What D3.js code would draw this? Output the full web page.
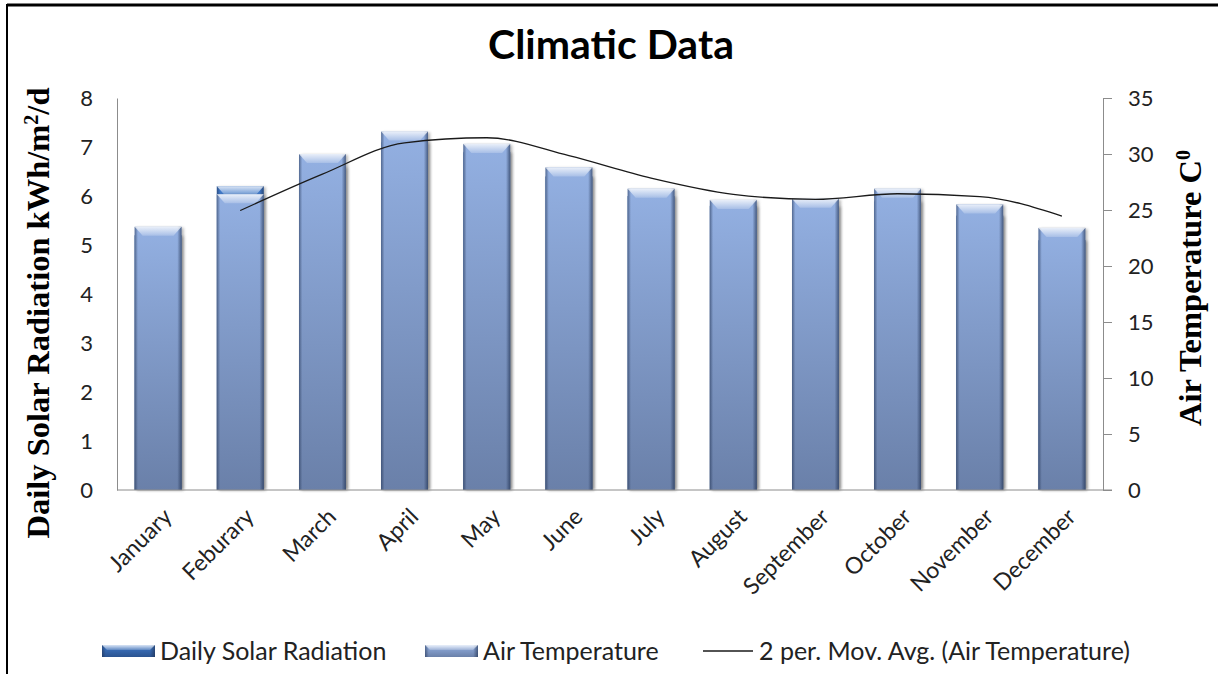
<!DOCTYPE html>
<html>
<head>
<meta charset="utf-8">
<script src="https://cdn.jsdelivr.net/npm/d3@7"></script>
<style>
  body { margin: 0; background: #fff; }
  svg text { font-family: Lato, "Open Sans", sans-serif; }
</style>
</head>
<body>
<div id="chart-area"></div>
<script>

// Chart data
var months = ["January", "Feburary", "March", "April", "May", "June", "July",
              "August", "September", "October", "November", "December"];
var solarRadiation = [5.2, 6.2, 6.6, 7.1, 6.9, 6.4, 6.0, 5.8, 5.8, 5.9, 5.6, 5.1];
var airTemperature = [23.5, 26.4, 30.0, 32.0, 30.9, 28.8, 26.9, 25.9, 26.0, 26.9, 25.5, 23.4];
var leftTicks = [0, 1, 2, 3, 4, 5, 6, 7, 8];
var rightTicks = [0, 5, 10, 15, 20, 25, 30, 35];

// SVG Size
var width = 1218,
    height = 674;

var svg = d3.select("#chart-area").append("svg")
    .attr("width", width)
    .attr("height", height);

var defs = svg.append("defs");

// plot area
var plotLeft = 117, plotRight = 1103, plotTop = 98, plotBottom = 490;

var x = d3.scaleBand()
    .domain(months)
    .range([plotLeft, plotRight])
    .paddingInner(0.43)
    .paddingOuter(0.215);

var ySolar = d3.scaleLinear().domain([0, 8]).range([plotBottom, plotTop]);
var yTemp = d3.scaleLinear().domain([0, 35]).range([plotBottom, plotTop]);

// gradients for the bevelled bars
function vGrad(id, c1, c2) {
  var g = defs.append("linearGradient").attr("id", id)
      .attr("x1", 0).attr("y1", 0).attr("x2", 0).attr("y2", 1);
  g.append("stop").attr("offset", "0%").attr("stop-color", c1);
  g.append("stop").attr("offset", "100%").attr("stop-color", c2);
}
vGrad("tempFill", "#93b0e2", "#6a80a9");
vGrad("solarFill", "#3f78c8", "#2a5390");

var edge = defs.append("linearGradient").attr("id", "edge")
    .attr("x1", 0).attr("y1", 0).attr("x2", 1).attr("y2", 0);
edge.append("stop").attr("offset", "0%").attr("stop-color", "#1f3050").attr("stop-opacity", 0.55);
edge.append("stop").attr("offset", "7%").attr("stop-color", "#1f3050").attr("stop-opacity", 0);
edge.append("stop").attr("offset", "91%").attr("stop-color", "#1f3050").attr("stop-opacity", 0);
edge.append("stop").attr("offset", "100%").attr("stop-color", "#1f3050").attr("stop-opacity", 0.65);

var bevel = defs.append("linearGradient").attr("id", "bevel")
    .attr("x1", 0).attr("y1", 0).attr("x2", 0).attr("y2", 1);
bevel.append("stop").attr("offset", "0%").attr("stop-color", "#ffffff").attr("stop-opacity", 0.8);
bevel.append("stop").attr("offset", "100%").attr("stop-color", "#ffffff").attr("stop-opacity", 0.2);

var blur = defs.append("filter").attr("id", "shadow")
    .attr("x", "-20%").attr("y", "-5%").attr("width", "140%").attr("height", "110%");
blur.append("feGaussianBlur").attr("stdDeviation", 1.5);

// draws one set of bevelled bars
function drawBars(cls, values, yScale, fillId) {
  var g = svg.append("g").attr("class", cls);
  var bw = x.bandwidth();
  var groups = g.selectAll("g")
      .data(values)
      .enter()
      .append("g");

  groups.append("rect")
      .attr("x", function(d, i){ return x(months[i]) + 2; })
      .attr("y", function(d){ return yScale(d) + 1; })
      .attr("width", bw)
      .attr("height", function(d){ return plotBottom - yScale(d) - 1; })
      .attr("fill", "#555")
      .attr("opacity", 0.45)
      .attr("filter", "url(#shadow)");

  groups.append("rect")
      .attr("x", function(d, i){ return x(months[i]); })
      .attr("y", function(d){ return yScale(d); })
      .attr("width", bw)
      .attr("height", function(d){ return plotBottom - yScale(d); })
      .attr("fill", "url(#" + fillId + ")");

  groups.append("rect")
      .attr("x", function(d, i){ return x(months[i]); })
      .attr("y", function(d){ return yScale(d); })
      .attr("width", bw)
      .attr("height", function(d){ return plotBottom - yScale(d); })
      .attr("fill", "url(#edge)");

  groups.append("path")
      .attr("d", function(d, i){
        var x0 = x(months[i]), y0 = yScale(d);
        return "M" + x0 + "," + y0 + "H" + (x0 + bw) +
               "L" + (x0 + bw - 8) + "," + (y0 + 9) +
               "H" + (x0 + 8) + "Z";
      })
      .attr("fill", "url(#bevel)");
}

drawBars("solar-bars", solarRadiation, ySolar, "solarFill");
drawBars("temp-bars", airTemperature, yTemp, "tempFill");

// 2 period moving average of the air temperature
var movAvg = airTemperature.map(function(d, i){
  return i === 0 ? null : (d + airTemperature[i - 1]) / 2;
});

var line = d3.line()
    .defined(function(d){ return d !== null; })
    .x(function(d, i){ return x(months[i]) + x.bandwidth() / 2; })
    .y(function(d){ return yTemp(d); })
    .curve(d3.curveMonotoneX);

svg.append("path")
    .datum(movAvg)
    .attr("fill", "none")
    .attr("stroke", "#1a1a1a")
    .attr("stroke-width", 1.3)
    .attr("d", line);

// axes
var yAxisLeft = d3.axisLeft(ySolar).tickValues(leftTicks).tickSize(0).tickPadding(24);
var yAxisRight = d3.axisRight(yTemp).tickValues(rightTicks).tickSize(9).tickPadding(16);

var gl = svg.append("g")
    .attr("class", "y axis")
    .attr("transform", "translate(" + plotLeft + ",0)")
    .call(yAxisLeft);

var gr = svg.append("g")
    .attr("class", "y axis")
    .attr("transform", "translate(" + plotRight + ",0)")
    .call(yAxisRight);

[gl, gr].forEach(function(g){
  g.select(".domain").attr("stroke", "#8c8c8c");
  g.selectAll(".tick line").attr("stroke", "#8c8c8c");
  g.selectAll(".tick text")
      .attr("fill", "#222")
      .style("font-size", "22px")
      .style("font-family", "Lato, 'Open Sans', sans-serif");
});

// baseline
svg.append("line")
    .attr("x1", plotLeft).attr("x2", plotRight + 9)
    .attr("y1", plotBottom).attr("y2", plotBottom)
    .attr("stroke", "#8c8c8c");

// month labels
svg.append("g").selectAll("text")
    .data(months)
    .enter()
    .append("text")
    .attr("transform", function(d){
      return "translate(" + (x(d) + x.bandwidth() / 2 + 3) + "," + (plotBottom + 16) + ") rotate(-45)";
    })
    .attr("dy", "0.75em")
    .style("text-anchor", "end")
    .style("font-size", "23px")
    .attr("fill", "#222")
    .text(function(d){ return d; });

// axis titles
var lt = svg.append("text")
    .attr("transform", "translate(49," + 313 + ") rotate(-90)")
    .style("text-anchor", "middle")
    .style("font-family", "'Liberation Serif', serif")
    .style("font-weight", "bold")
    .style("font-size", "32.5px")
    .attr("fill", "#000");
lt.append("tspan").text("Daily Solar Radiation kWh/m");
lt.append("tspan").attr("baseline-shift", "super").style("font-size", "20px").text("2");
lt.append("tspan").text("/d");

var rt = svg.append("text")
    .attr("transform", "translate(1201,288) rotate(-90)")
    .style("text-anchor", "middle")
    .style("font-family", "'Liberation Serif', serif")
    .style("font-weight", "bold")
    .style("font-size", "32.5px")
    .attr("fill", "#000");
rt.append("tspan").text("Air Temperature C");
rt.append("tspan").attr("baseline-shift", "super").style("font-size", "20px").text("0");

// title
svg.append("text")
    .attr("x", 611)
    .attr("y", 59)
    .style("text-anchor", "middle")
    .style("font-weight", "bold")
    .style("font-size", "41px")
    .attr("fill", "#000")
    .text("Climatic Data");

// frame (top and left edges visible)
svg.append("line").attr("x1", 7).attr("x2", width).attr("y1", 5).attr("y2", 5)
    .attr("stroke", "#000").attr("stroke-width", 3);
svg.append("line").attr("x1", 7).attr("x2", 7).attr("y1", 4).attr("y2", height)
    .attr("stroke", "#000").attr("stroke-width", 2);

// legend
var legendY = 651;
var legend = svg.append("g").attr("class", "legend");

var items = [
  { name: "Daily Solar Radiation", fill: "solarFill", x: 102 },
  { name: "Air Temperature", fill: "tempFill", x: 425 }
];

items.forEach(function(it){
  legend.append("rect")
      .attr("x", it.x).attr("y", legendY - 6)
      .attr("width", 53).attr("height", 12)
      .attr("fill", "url(#" + it.fill + ")");
  legend.append("rect")
      .attr("x", it.x).attr("y", legendY - 6)
      .attr("width", 53).attr("height", 12)
      .attr("fill", "url(#edge)");
  legend.append("path")
      .attr("d", "M" + it.x + "," + (legendY - 6) + "H" + (it.x + 53) +
                 "L" + (it.x + 48) + "," + (legendY - 1) + "H" + (it.x + 5) + "Z")
      .attr("fill", "url(#bevel)");
  legend.append("text")
      .attr("x", it.x + 58).attr("y", legendY)
      .attr("dy", "0.35em")
      .style("font-size", "25px")
      .attr("fill", "#222")
      .text(it.name);
});

legend.append("line")
    .attr("x1", 703).attr("x2", 753)
    .attr("y1", legendY).attr("y2", legendY)
    .attr("stroke", "#1a1a1a").attr("stroke-width", 1.3);
legend.append("text")
    .attr("x", 759).attr("y", legendY)
    .attr("dy", "0.35em")
    .style("font-size", "25px")
    .attr("fill", "#222")
    .text("2 per. Mov. Avg. (Air Temperature)");

</script>
</body>
</html>
